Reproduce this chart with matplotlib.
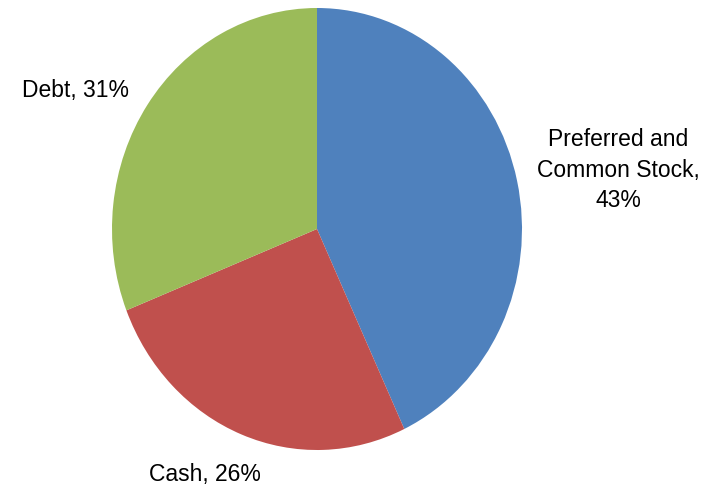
import matplotlib.pyplot as plt

# Data
categories = ["Preferred and\nCommon Stock", "Cash", "Debt"]
shares = [43, 26, 31]
label_sep = ["\n", " ", " "]
colors = ["#4F81BD", "#C0504D", "#9BBB59"]

plt.rcParams["font.family"] = ["Liberation Sans", "DejaVu Sans"]

W, H = 713, 491
fig = plt.figure(figsize=(W / 100, H / 100), dpi=100)

# pie is drawn slightly taller than wide, like the original
left, right, top, bottom = 112, 522, 8, 450
ax = fig.add_axes([left / W, 1 - bottom / H, (right - left) / W, (bottom - top) / H])
wedges, _ = ax.pie(shares, colors=colors, startangle=90, counterclock=False,
                   radius=1, wedgeprops=dict(linewidth=0))
ax.set_aspect("auto")
ax.set_xlim(-1, 1)
ax.set_ylim(-1, 1)
ax.axis("off")

# data labels (pixel positions of label centres)
label_pos = [(618, 170), (205, 475), (75, 90)]
for cat, val, sep, (px, py) in zip(categories, shares, label_sep, label_pos):
    fig.text(px / W, 1 - py / H, f"{cat},{sep}{val}%", ha="center", va="center",
             fontsize=16.5, linespacing=1.4, color="black")

fig.savefig("out.png", dpi=100)
